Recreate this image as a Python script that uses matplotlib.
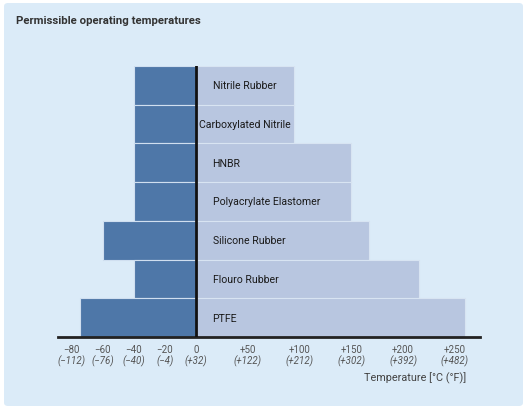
import numpy as np
import matplotlib
matplotlib.use("Agg")
import matplotlib.pyplot as plt
from matplotlib.patches import FancyBboxPatch

materials = ["Nitrile Rubber", "Carboxylated Nitrile", "HNBR", "Polyacrylate Elastomer",
             "Silicone Rubber", "Flouro Rubber", "PTFE"]
t_min = [-40, -40, -40, -40, -60, -40, -75]
t_max = [95, 95, 150, 150, 167, 215, 260]
label_x = [16, 3, 16, 16, 16, 16, 16]

tick_c = [-80, -60, -40, -20, 0, 50, 100, 150, 200, 250]
tick_c_lbl = ["\u221280", "\u221260", "\u221240", "\u221220", "0", "+50", "+100", "+150", "+200", "+250"]
tick_f_lbl = ["(\u2212112)", "(\u221276)", "(\u221240)", "(\u22124)", "(+32)", "(+122)", "(+212)", "(+302)", "(+392)", "(+482)"]

plt.rcParams['font.family'] = ['Roboto', 'DejaVu Sans']

BG = "#dbebf8"
C_NEG = "#4e77a8"
C_POS = "#b8c6e0"

fig = plt.figure(figsize=(5.27, 4.10), dpi=100)
fig.patch.set_facecolor("white")
panel = FancyBboxPatch((4/527, 3/410), 519/527, 403/410, boxstyle="round,pad=0,rounding_size=0.008",
                       transform=fig.transFigure, facecolor=BG, edgecolor="none", zorder=-5)
fig.patches.append(panel)

ax = fig.add_axes([58/527, (410-338)/410, 422/527, 271/410])
ax.set_facecolor("none")
ax.set_zorder(2)

def fwd(x):
    x = np.asarray(x, dtype=float)
    return np.where(x < 0, 1.5 * x, x)

def inv(x):
    x = np.asarray(x, dtype=float)
    return np.where(x < 0, x / 1.5, x)

ax.set_xscale('function', functions=(fwd, inv))
ax.set_xlim(-88.9, 274.4)
ax.set_ylim(6.5, -0.5)

y = np.arange(len(materials))
ax.barh(y, t_min, height=1.0, color=C_NEG, edgecolor="#d0dff0", linewidth=0.8, zorder=2)
ax.barh(y, t_max, height=1.0, color=C_POS, edgecolor="#d8e4f2", linewidth=0.8, zorder=2)
ax.axvline(0, color="#111111", linewidth=2.0, zorder=3)

for yi, name, lx in zip(y, materials, label_x):
    ax.text(lx, yi, name, ha="left", va="center", fontsize=7.6, color="#1a1a1a", zorder=4)

for s in ["top", "right", "left"]:
    ax.spines[s].set_visible(False)
ax.spines["bottom"].set_linewidth(2.0)
ax.spines["bottom"].set_color("#222222")
ax.set_yticks([])
ax.set_xticks(tick_c)
ax.set_xticklabels([])
ax.tick_params(axis="x", length=0)
ax.minorticks_off()

trans = ax.get_xaxis_transform()
for xc, l1, l2 in zip(tick_c, tick_c_lbl, tick_f_lbl):
    ax.text(xc, -12/271, l1, transform=trans, ha="center", va="center", fontsize=7, color="#555555")
    ax.text(xc, -23/271, l2, transform=trans, ha="center", va="center", fontsize=7, color="#555555", style="italic")

fig.text(466/527, 1 - 378/410, "Temperature [\u00b0C (\u00b0F)]", ha="right", va="center", fontsize=7.8, color="#444444")
fig.text(16/527, 1 - 21/410, "Permissible operating temperatures", ha="left", va="center", fontsize=8.2,
         color="#333333", fontweight="bold")

fig.savefig("out.png", dpi=100, facecolor=fig.get_facecolor())
